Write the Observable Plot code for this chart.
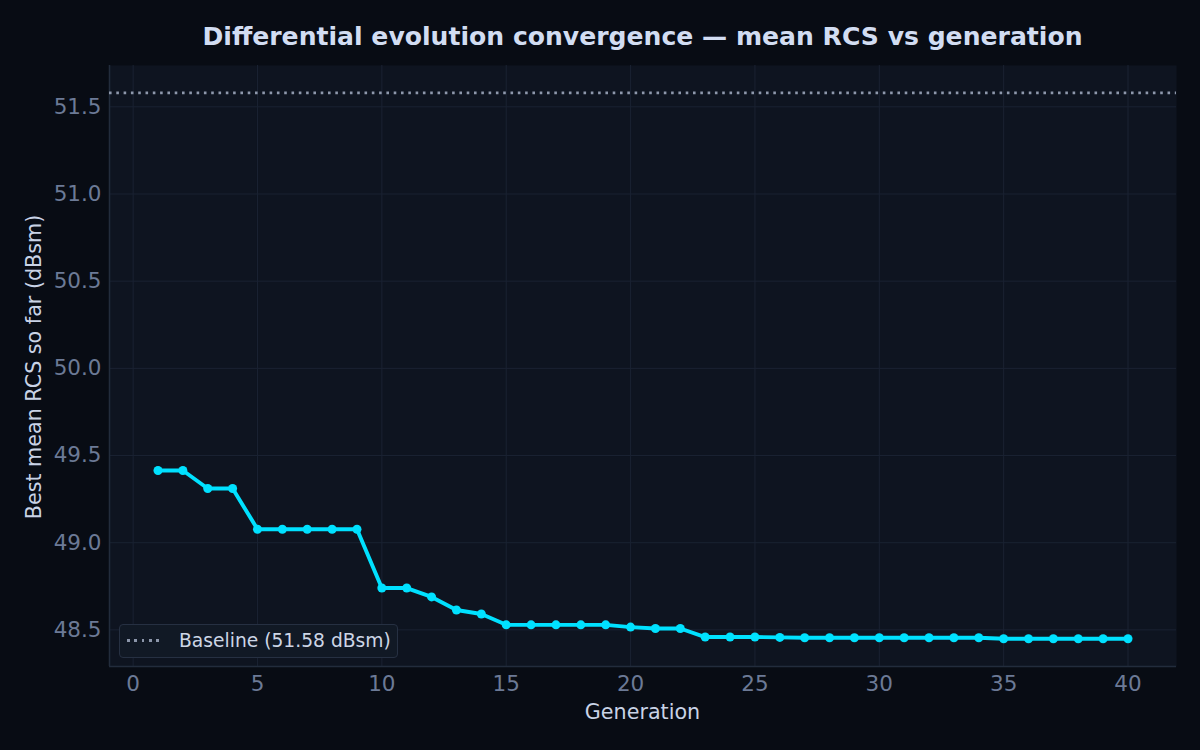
<!DOCTYPE html>
<html>
<head>
<meta charset="utf-8">
<script src="https://cdn.jsdelivr.net/npm/d3@7"></script>
<script src="https://cdn.jsdelivr.net/npm/@observablehq/plot@0.6"></script>
<style>
  html, body { margin: 0; padding: 0; background: #080c14; }
  #wrap { position: relative; width: 1200px; height: 750px; background: #080c14; font-family: "DejaVu Sans", sans-serif; overflow: hidden; }
  #title { position: absolute; left: 109px; width: 1067px; top: 22px; text-align: center; color: #d2ddf2; font-weight: bold; font-size: 25.1px; line-height: 30px; }
  #chart { position: absolute; left: 0; top: 65px; }
  #legend { position: absolute; left: 119px; top: 624px; width: 279px; height: 34px; box-sizing: border-box; background: #111925; border: 1.5px solid #263042; border-radius: 4px; color: #cdd6e6; font-size: 18.7px; }
  #legend .sample { position: absolute; left: 7px; top: 14px; width: 36px; height: 3px; background-image: repeating-linear-gradient(to right, #8c96aa 0 2.6px, transparent 2.6px 7.3px); }
  #legend .lab { position: absolute; left: 59px; top: 4px; white-space: nowrap; line-height: 24px; }
</style>
</head>
<body>
<div id="wrap">
  <div id="title">Differential evolution convergence — mean RCS vs generation</div>
  <div id="chart"></div>
  <div id="legend"><div class="sample"></div><div class="lab">Baseline (51.58 dBsm)</div></div>
</div>
<script>
const generations = [1,2,3,4,5,6,7,8,9,10,11,12,13,14,15,16,17,18,19,20,21,22,23,24,25,26,27,28,29,30,31,32,33,34,35,36,37,38,39,40];
const bestRCS = [49.414,49.414,49.311,49.311,49.077,49.077,49.077,49.077,49.077,48.740,
                 48.740,48.689,48.614,48.591,48.529,48.529,48.529,48.529,48.529,48.516,
                 48.508,48.508,48.459,48.459,48.459,48.457,48.455,48.455,48.455,48.455,
                 48.455,48.455,48.455,48.455,48.449,48.449,48.449,48.449,48.449,48.449];
const baseline = 51.58;
const xTicks = [0,5,10,15,20,25,30,35,40];
const yTicks = [48.5,49.0,49.5,50.0,50.5,51.0,51.5];

const data = generations.map((g,i) => ({gen: g, rcs: bestRCS[i]}));

const chart = Plot.plot({
  width: 1200,
  height: 685,
  marginTop: 0,
  marginBottom: 84,
  marginLeft: 109,
  marginRight: 24,
  style: { background: "transparent", fontFamily: "DejaVu Sans, sans-serif", fontSize: "21.5px", overflow: "visible" },
  x: { domain: [-0.95, 41.95], ticks: xTicks },
  y: { domain: [48.29, 51.737], ticks: yTicks },
  marks: [
    Plot.frame({ fill: "#0e1420", stroke: null }),
    Plot.gridX(xTicks, { stroke: "#1a2232", strokeOpacity: 1, strokeWidth: 1 }),
    Plot.gridY(yTicks, { stroke: "#1a2232", strokeOpacity: 1, strokeWidth: 1 }),
    Plot.axisX({ ticks: xTicks, tickSize: 0, tickPadding: 9, fill: "#6c7a96", tickFormat: d => String(d), fontSize: 21.5,
                 label: null }),
    Plot.axisY({ ticks: yTicks, tickSize: 0, tickPadding: 8, fill: "#6c7a96", tickFormat: d => d.toFixed(1), fontSize: 21.5,
                 label: null }),
    Plot.ruleX([-0.95], { stroke: "#222c3c", strokeWidth: 1.5 }),
    Plot.ruleY([48.29], { stroke: "#222c3c", strokeWidth: 1.5 }),
    Plot.ruleY([baseline], { stroke: "#8e98ac", strokeWidth: 2.6, strokeDasharray: "2.6,4.7" }),
    Plot.line(data, { x: "gen", y: "rcs", stroke: "#00e1ff", strokeWidth: 3.9, strokeLinejoin: "round" }),
    Plot.dot(data, { x: "gen", y: "rcs", fill: "#00e1ff", r: 4.5, stroke: null })
  ]
});
document.getElementById("chart").appendChild(chart);

// axis titles as real SVG text positioned relative to the plot frame
const ns = "http://www.w3.org/2000/svg";
const xl = document.createElementNS(ns, "text");
xl.setAttribute("x", 642.5); xl.setAttribute("y", 654); xl.setAttribute("text-anchor", "middle");
xl.setAttribute("fill", "#c9d3e6"); xl.setAttribute("font-size", "20.7"); xl.textContent = "Generation";
chart.appendChild(xl);
const yl = document.createElementNS(ns, "text");
yl.setAttribute("transform", "translate(41,302) rotate(-90)"); yl.setAttribute("text-anchor", "middle");
yl.setAttribute("fill", "#c9d3e6"); yl.setAttribute("font-size", "20.7"); yl.textContent = "Best mean RCS so far (dBsm)";
chart.appendChild(yl);
</script>
</body>
</html>
